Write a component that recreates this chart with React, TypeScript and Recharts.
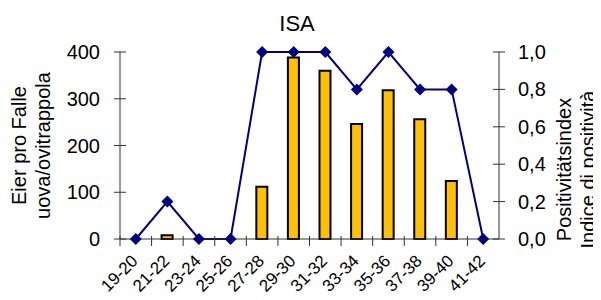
import { Bar, ComposedChart, Line, XAxis, YAxis, Label } from "recharts";

const weeks = ["19-20", "21-22", "23-24", "25-26", "27-28", "29-30", "31-32", "33-34", "35-36", "37-38", "39-40", "41-42"];
const eggs = [0, 8, 0, 0, 112, 388, 360, 246, 318, 256, 124, 0];
const positivity = [0, 0.2, 0, 0, 1, 1, 1, 0.8, 1, 0.8, 0.8, 0];
const leftTicks = [0, 100, 200, 300, 400];
const rightTicks = [0, 0.2, 0.4, 0.6, 0.8, 1];

const data = weeks.map((w, i) => ({ week: w, eggs: eggs[i], pos: positivity[i] }));

const FONT = "'Liberation Sans', Arial, sans-serif";
const AXIS = "#333";

function LeftTick(props: any) {
    const { x, y, payload } = props;
    return (
        <g>
            <line x1={x - 6} x2={x + 6} y1={y} y2={y} stroke={AXIS} />
            <text x={x - 20} y={y + 7} textAnchor="end" fontSize={20} fontFamily={FONT} fill="#000">
                {payload.value}
            </text>
        </g>
    );
}

function RightTick(props: any) {
    const { x, y, payload } = props;
    return (
        <g>
            <line x1={x - 6} x2={x + 6} y1={y} y2={y} stroke={AXIS} />
            <text x={x + 19} y={y + 7} textAnchor="start" fontSize={20} fontFamily={FONT} fill="#000">
                {payload.value.toFixed(1).replace(".", ",")}
            </text>
        </g>
    );
}

function BottomTick(props: any) {
    const { x, y, payload } = props;
    const half = 379 / 12 / 2;
    return (
        <g>
            <line x1={x - half} x2={x - half} y1={y - 5} y2={y + 5} stroke={AXIS} />
            <text
                x={x + 3}
                y={y + 21}
                textAnchor="end"
                fontSize={17}
                fontFamily={FONT}
                fill="#000"
                transform={`rotate(-45 ${x + 3} ${y + 21})`}
            >
                {payload.value}
            </text>
        </g>
    );
}

function Diamond(props: any) {
    const { cx, cy } = props;
    if (cx == null || cy == null) return null;
    return <polygon points={`${cx},${cy - 6} ${cx + 6},${cy} ${cx},${cy + 6} ${cx - 6},${cy}`} fill="#000080" />;
}

function TwoLineLabel(lines: string[], cx: number, gap: number, shift: number) {
    return (props: any) => {
        const vb = props.viewBox;
        const cy = vb.y + vb.height / 2 + shift;
        return (
            <text
                transform={`rotate(-90 ${cx} ${cy})`}
                x={cx}
                y={cy}
                textAnchor="middle"
                fontSize={20}
                fontFamily={FONT}
                fill="#000"
            >
                {lines.map((l, i) => (
                    <tspan key={i} x={cx} dy={i === 0 ? 0 : gap}>
                        {l}
                    </tspan>
                ))}
            </text>
        );
    };
}

export default function App() {
    return (
        <div style={{ position: "relative", width: 593, height: 292 }}>
            <div
                style={{
                    position: "absolute",
                    left: 189,
                    width: 200,
                    top: 3,
                    textAlign: "center",
                    fontFamily: FONT,
                    fontSize: 22,
                }}
            >
                ISA
            </div>
            <ComposedChart width={593} height={292} data={data} margin={{ top: 44, right: 0, left: 0, bottom: 0 }}>
                <XAxis
                    dataKey="week"
                    height={61}
                    stroke={AXIS}
                    tickLine={false}
                    tickSize={0}
                    tick={<BottomTick />}
                    interval={0}
                />
                <YAxis
                    yAxisId="left"
                    width={112}
                    domain={[0, 400]}
                    ticks={leftTicks}
                    stroke={AXIS}
                    tickLine={false}
                    tickSize={0}
                    tickMargin={0}
                    tick={<LeftTick />}
                >
                    <Label content={TwoLineLabel(["Eier pro Falle", "uova/ovitrappola"], 18, 24, 0)} />
                </YAxis>
                <YAxis
                    yAxisId="right"
                    orientation="right"
                    width={102}
                    domain={[0, 1]}
                    ticks={rightTicks}
                    stroke={AXIS}
                    tickLine={false}
                    tickSize={0}
                    tickMargin={0}
                    tick={<RightTick />}
                >
                    <Label content={TwoLineLabel(["Positivitätsindex", "Indice di positività"], 563, 24, 24)} />
                </YAxis>
                <Bar
                    yAxisId="left"
                    dataKey="eggs"
                    fill="#FFC000"
                    stroke="#000"
                    strokeWidth={2}
                    barSize={11}
                    isAnimationActive={false}
                />
                <Line
                    yAxisId="right"
                    dataKey="pos"
                    stroke="#000080"
                    strokeWidth={2}
                    dot={<Diamond />}
                    activeDot={false}
                    isAnimationActive={false}
                />
            </ComposedChart>
        </div>
    );
}
